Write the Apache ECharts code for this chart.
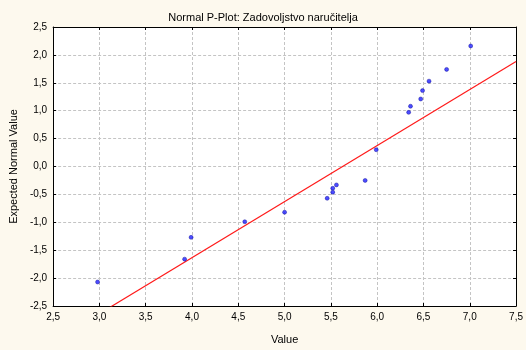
<!DOCTYPE html>
<html>
<head>
<meta charset="utf-8">
<script src="https://cdn.jsdelivr.net/npm/echarts@6/dist/echarts.min.js"></script>
<style>
  html, body { margin: 0; padding: 0; background: #fdf9ee; }
  #chart { width: 526px; height: 350px; }
</style>
</head>
<body>
<div id="chart"></div>
<script>
// observed values (x) and expected normal values (y)
var obsValue = [2.98, 3.92, 3.99, 4.57, 5.00, 5.46, 5.52, 5.52, 5.56, 5.87, 5.99, 6.34, 6.36, 6.47, 6.49, 6.56, 6.75, 7.01];
var expNormal = [-2.07, -1.66, -1.27, -0.99, -0.82, -0.57, -0.39, -0.46, -0.33, -0.25, 0.30, 0.97, 1.08, 1.21, 1.36, 1.53, 1.74, 2.16];
// reference line end points
var lineX = [2.5, 7.5];
var lineY = [-3.14, 1.88];

var pts = [];
for (var i = 0; i < obsValue.length; i++) {
    pts.push([obsValue[i], expNormal[i]]);
}
var linePts = [];
for (var j = 0; j < lineX.length; j++) {
    linePts.push([lineX[j], lineY[j]]);
}

function fmt(v) {
    return v.toFixed(1).replace('.', ',');
}

var font = 'Liberation Sans, Arial, sans-serif';
var axisLineStyle = { color: '#000', width: 1 };

var option = {
    backgroundColor: '#fdf9ee',
    animation: false,
    title: {
        text: 'Normal P-Plot: Zadovoljstvo naručitelja',
        left: 'center',
        top: 7,
        textStyle: { fontFamily: font, fontSize: 11, fontWeight: 'normal', color: '#000' }
    },
    grid: {
        left: 51,
        right: 9,
        top: 27,
        bottom: 37,
        show: true,
        backgroundColor: '#fff',
        borderWidth: 0
    },
    xAxis: [{
        type: 'value',
        min: 2.5,
        max: 7.5,
        interval: 0.5,
        name: 'Value',
        nameLocation: 'middle',
        nameGap: 28,
        nameTextStyle: { fontFamily: font, fontSize: 11, color: '#000' },
        axisLine: { onZero: false, lineStyle: axisLineStyle },
        axisTick: { inside: true, length: 3, lineStyle: axisLineStyle },
        axisLabel: { fontFamily: font, fontSize: 10, color: '#000', margin: 6, formatter: fmt },
        splitLine: { show: true, lineStyle: { color: '#c4c4c4', type: [3, 2] } }
    }, {
        type: 'value',
        position: 'top',
        min: 2.5,
        max: 7.5,
        interval: 0.5,
        axisLine: { show: true, onZero: false, lineStyle: axisLineStyle },
        axisTick: { inside: true, length: 3, lineStyle: axisLineStyle },
        axisLabel: { show: false },
        splitLine: { show: false }
    }],
    yAxis: [{
        type: 'value',
        min: -2.5,
        max: 2.5,
        interval: 0.5,
        name: 'Expected Normal Value',
        nameLocation: 'middle',
        nameGap: 33,
        nameTextStyle: { fontFamily: font, fontSize: 11, color: '#000' },
        axisLine: { show: true, onZero: false, lineStyle: axisLineStyle },
        axisTick: { show: true, inside: true, length: 3, lineStyle: axisLineStyle },
        axisLabel: { fontFamily: font, fontSize: 10, color: '#000', margin: 6, formatter: fmt },
        splitLine: { show: true, lineStyle: { color: '#c4c4c4', type: [3, 2] } }
    }, {
        type: 'value',
        position: 'right',
        min: -2.5,
        max: 2.5,
        interval: 0.5,
        axisLine: { show: true, onZero: false, lineStyle: axisLineStyle },
        axisTick: { show: true, inside: true, length: 3, lineStyle: axisLineStyle },
        axisLabel: { show: false },
        splitLine: { show: false }
    }],
    series: [{
        type: 'line',
        data: linePts,
        symbol: 'none',
        clip: true,
        lineStyle: { color: '#ff1a1a', width: 1.2 },
        z: 3
    }, {
        type: 'scatter',
        data: pts,
        symbol: 'circle',
        symbolSize: 4,
        itemStyle: { color: '#1f1fff', borderColor: '#00008c', borderWidth: 0.5 },
        z: 4
    }]
};

var myChart = echarts.init(document.getElementById('chart'));
myChart.setOption(option);
</script>
</body>
</html>
